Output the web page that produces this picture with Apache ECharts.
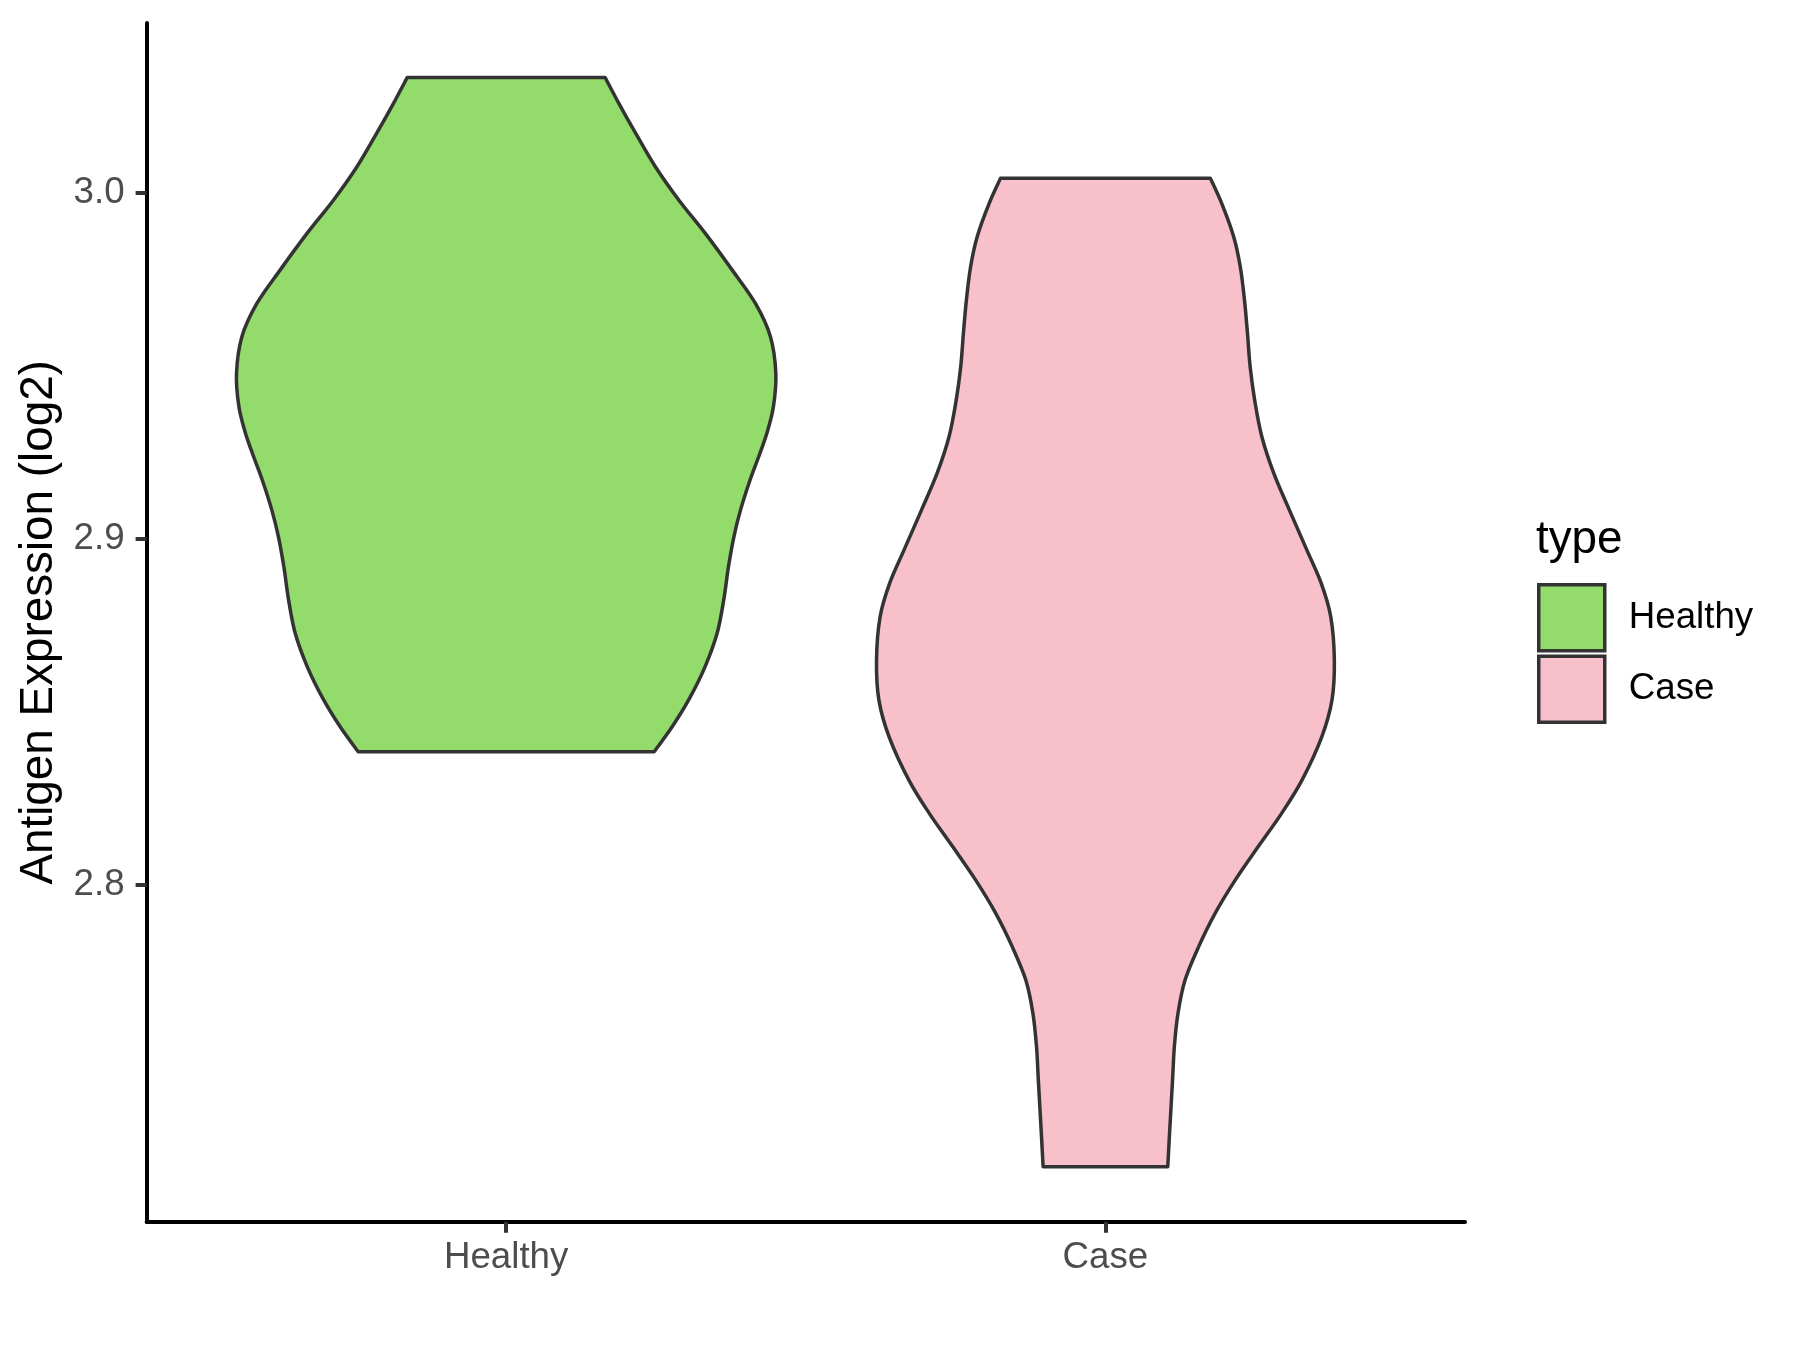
<!DOCTYPE html>
<html>
<head>
<meta charset="utf-8">
<script src="https://cdn.jsdelivr.net/npm/echarts@6/dist/echarts.min.js"></script>
<style>
  html, body { margin: 0; padding: 0; background: #ffffff; }
  #chart { width: 1800px; height: 1350px; }
</style>
</head>
<body>
<div id="chart"></div>
<script>
// ---- Data ----
const categories = ['Healthy', 'Case'];
const colors = ['#93DB6A', '#F7C0CB'];
const yTickValues = [2.8, 2.9, 3.0];

// Healthy violin outline: expression value (top -> bottom) and half-width in category units
const healthyY = [3.0333, 3.0258, 3.0172, 3.0075, 2.9979, 2.9883, 2.9777, 2.9680, 2.9584, 2.9478,
                  2.9382, 2.9305, 2.9240, 2.9170, 2.9083, 2.9006, 2.8920, 2.8823, 2.8727, 2.8631,
                  2.8536, 2.8457, 2.8385];
const healthyHalfWidth = [0.165, 0.188, 0.216, 0.249, 0.288, 0.332, 0.377, 0.416, 0.441, 0.450,
                          0.446, 0.435, 0.422, 0.407, 0.391, 0.380, 0.371, 0.363, 0.352, 0.332,
                          0.305, 0.277, 0.247];

// Case violin outline
const caseY = [3.0042, 2.9969, 2.9873, 2.9786, 2.9690, 2.9594, 2.9497, 2.9401, 2.9295, 2.9189,
               2.9083, 2.8968, 2.8872, 2.8775, 2.8650, 2.8534, 2.8428, 2.8303, 2.8207, 2.8111,
               2.8014, 2.7918, 2.7822, 2.7726, 2.7629, 2.7533, 2.7437, 2.7283, 2.7186];
const caseHalfWidth = [0.175, 0.194, 0.214, 0.225, 0.232, 0.237, 0.2415, 0.249, 0.261, 0.281,
                       0.307, 0.336, 0.360, 0.376, 0.382, 0.378, 0.361, 0.328, 0.294, 0.255,
                       0.2165, 0.183, 0.1556, 0.133, 0.121, 0.115, 0.112, 0.107, 0.104];

const violins = [
  { name: categories[0], pos: 1, ys: healthyY, hws: healthyHalfWidth, color: colors[0] },
  { name: categories[1], pos: 2, ys: caseY, hws: caseHalfWidth, color: colors[1] }
];

const FONT = '"Liberation Sans", Arial, Helvetica, sans-serif';

// Smooth curve through points (Catmull-Rom -> cubic Bezier) for drawing only
function curveThrough(pts, d) {
  for (let i = 0; i < pts.length - 1; i++) {
    const p0 = pts[Math.max(i - 1, 0)], p1 = pts[i], p2 = pts[i + 1], p3 = pts[Math.min(i + 2, pts.length - 1)];
    const c1 = [p1[0] + (p2[0] - p0[0]) / 6, p1[1] + (p2[1] - p0[1]) / 6];
    const c2 = [p2[0] - (p3[0] - p1[0]) / 6, p2[1] - (p3[1] - p1[1]) / 6];
    d.push('C' + c1[0] + ' ' + c1[1] + ' ' + c2[0] + ' ' + c2[1] + ' ' + p2[0] + ' ' + p2[1]);
  }
}

function makeRender(v) {
  return function (params, api) {
    const left = v.ys.map((y, i) => api.coord([v.pos - v.hws[i], y]));
    const right = v.ys.map((y, i) => api.coord([v.pos + v.hws[i], y])).reverse();
    const d = ['M' + left[0][0] + ' ' + left[0][1]];
    curveThrough(left, d);
    d.push('L' + right[0][0] + ' ' + right[0][1]);
    curveThrough(right, d);
    d.push('Z');
    return {
      type: 'path',
      shape: { pathData: d.join(' ') },
      style: { fill: v.color, stroke: '#333333', lineWidth: 3.5, lineJoin: 'round' }
    };
  };
}

const chart = echarts.init(document.getElementById('chart'), null, { renderer: 'canvas' });
chart.setOption({
  animation: false,
  backgroundColor: '#ffffff',
  title: {
    text: 'type', left: 1536, top: 517.5, padding: 0,
    textStyle: { fontFamily: FONT, fontSize: 45.8, fontWeight: 'normal', color: '#000000' }
  },
  legend: {
    orient: 'vertical', left: 1537, top: 583, padding: 0, itemGap: 2,
    itemWidth: 66, itemHeight: 66, selectedMode: false,
    textStyle: { fontFamily: FONT, fontSize: 36.7, color: '#000000', padding: [6, 0, 0, 19] },
    data: violins.map(v => ({
      name: v.name, icon: 'rect',
      itemStyle: { color: v.color, borderColor: '#333333', borderWidth: 3.5 }
    }))
  },
  grid: { left: 146.6, right: 335, top: 23, bottom: 128.3, containLabel: false },
  xAxis: {
    type: 'value', min: 0.4, max: 2.6,
    axisLine: { show: true, onZero: false, lineStyle: { color: '#000000', width: 4 } },
    axisTick: { show: true, customValues: [1, 2], length: 11, lineStyle: { color: '#333333', width: 4 } },
    axisLabel: {
      customValues: [1, 2], margin: 17.5,
      formatter: val => categories[Math.round(val) - 1],
      fontFamily: FONT, fontSize: 36.7, color: '#4D4D4D'
    },
    splitLine: { show: false }
  },
  yAxis: {
    type: 'value', min: 2.70273, max: 3.04902,
    name: 'Antigen Expression (log2)', nameLocation: 'middle', nameGap: 83,
    nameTextStyle: { fontFamily: FONT, fontSize: 45.8, color: '#000000' },
    axisLine: { show: true, onZero: false, lineStyle: { color: '#000000', width: 4 } },
    axisTick: { show: true, customValues: yTickValues, length: 11, lineStyle: { color: '#333333', width: 4 } },
    axisLabel: {
      customValues: yTickValues, margin: 22,
      formatter: val => val.toFixed(1),
      fontFamily: FONT, fontSize: 36.7, color: '#4D4D4D'
    },
    splitLine: { show: false }
  },
  series: violins.map(v => ({
    type: 'custom', name: v.name,
    itemStyle: { color: v.color },
    renderItem: makeRender(v),
    data: [[v.pos, v.ys[0]]],
    silent: true
  }))
});
</script>
</body>
</html>
